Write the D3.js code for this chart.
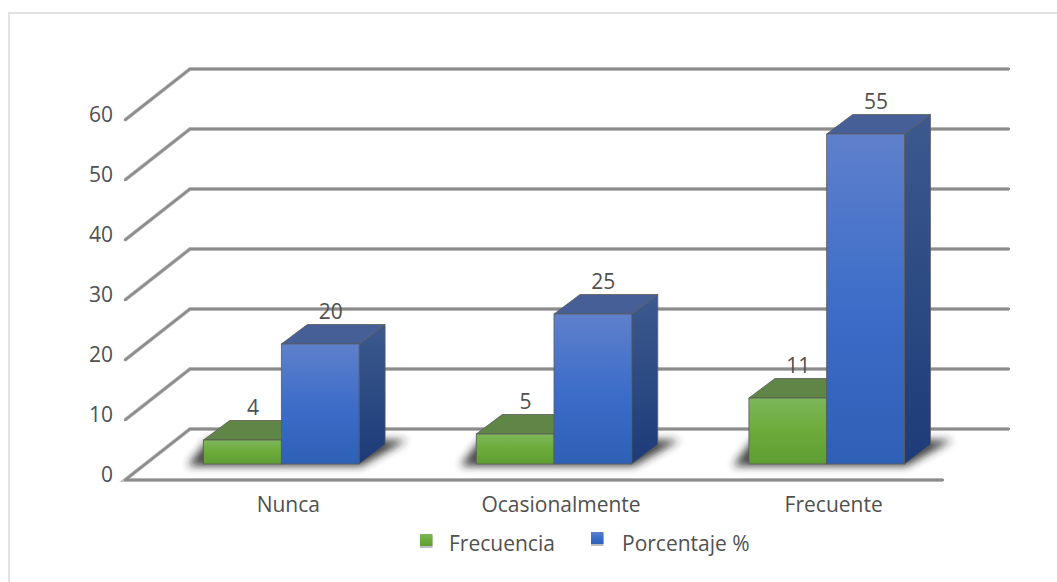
<!DOCTYPE html>
<html><head><meta charset="utf-8">
<script src="https://cdn.jsdelivr.net/npm/d3@7"></script>
<style>html,body{margin:0;padding:0;background:#fff}svg{display:block}text{font-family:"Open Sans",sans-serif;fill:#505050}</style>
</head><body><svg id="c" width="1057" height="582"></svg>
<script>
const categories = ["Nunca","Ocasionalmente","Frecuente"];
const seriesNames = ["Frecuencia","Porcentaje %"];
const frecuencia = [4,5,11];
const porcentaje = [20,25,55];
const yTicks = [0,10,20,30,40,50,60];

const svg = d3.select("#c");
const defs = svg.append("defs");
function grad(id, stops){
  const g = defs.append("linearGradient").attr("id",id).attr("x1",0).attr("y1",0).attr("x2",0).attr("y2",1);
  stops.forEach(s=>g.append("stop").attr("offset",s[0]).attr("stop-color",s[1]));
}
grad("gFront",[[0,"#7db65a"],[0.5,"#6cab3a"],[1,"#5f9d34"]]);
grad("bFront",[[0,"#5f80cc"],[0.55,"#3a6cc8"],[1,"#2f60b6"]]);
grad("bSide",[[0,"#3d5a8e"],[1,"#1c3b78"]]);
grad("gSide",[[0,"#4f7238"],[1,"#3f6a25"]]);
defs.append("filter").attr("id","blur").attr("x","-30%").attr("y","-100%").attr("width","160%").attr("height","300%")
  .append("feGaussianBlur").attr("stdDeviation",4);
defs.append("filter").attr("id","soft").attr("filterUnits","userSpaceOnUse").attr("x",0).attr("y",0).attr("width",1057).attr("height",582)
  .append("feGaussianBlur").attr("stdDeviation",0.7);

// frame: only the top and left edges show
svg.append("path").attr("d",d3.line()([[9,582],[9,13],[1057,13]])).attr("fill","none").attr("stroke","#e2e2e2").attr("stroke-width",2);

// scales
const y = d3.scaleLinear().domain([0,60]).range([480,120]);
const x = d3.scaleBand().domain(categories).range([145,963]);
const xInner = d3.scaleBand().domain(seriesNames).range([0,155.5]);
const barOffset = (x.bandwidth()-155.5)/2;
const dx = 65, dy = -51;          // wall depth
const bdx = 26, bdy = -19.5;      // bar depth
const floorLift = 16;             // bars stand this far behind the front edge
const xFloorLeft = 125, xFloorRight = 943;

// gridlines and walls
const gridPath = t => {
  const pts = t===0
    ? [[xFloorRight,y(0)],[xFloorLeft,y(0)],[xFloorLeft+dx,y(0)+dy],[xFloorRight+dx+1,y(0)+dy]]
    : [[xFloorLeft,y(t)],[xFloorLeft+dx,y(t)+dy],[xFloorRight+dx+1,y(t)+dy]];
  return d3.line()(pts);
};
const haloG = svg.append("g").attr("fill","none").attr("stroke","#c4c4c4").attr("stroke-width",4).attr("filter","url(#soft)");
const gridG = svg.append("g").attr("fill","none").attr("stroke","#8c8c8c").attr("stroke-width",2.4);
yTicks.forEach(t=>{
  haloG.append("path").attr("d",gridPath(t));
  gridG.append("path").attr("d",gridPath(t)).attr("stroke-linejoin","round").attr("stroke-linecap","round");
});

// y tick labels
svg.append("g").selectAll("text").data(yTicks).join("text")
  .attr("x",113).attr("y",d=>y(d)-6).attr("text-anchor","end").attr("dominant-baseline","central")
  .attr("font-size",21).text(d=>d);

// shadows
svg.append("g").selectAll("path").data(categories).join("path")
  .attr("filter","url(#blur)").attr("fill","#222").attr("opacity",0.85)
  .attr("d",c=>{
    const l = x(c)+barOffset, r = l+155.5, b = y(0)-floorLift;
    return d3.line()([[l-16,b+2],[r+2,b+2],[r+48,b-24],[r,b-24],[l+4,b-24]])+"Z";
  });

// bars
function drawBar(g, left, w, v, front, side, top){
  const b = y(0)-floorLift, t = b-(y(0)-y(v));
  const st = "#5a5a5a";
  g.append("path").attr("d",d3.line()([[left+w,t],[left+w+bdx,t+bdy],[left+w+bdx,b+bdy],[left+w,b]])+"Z")
    .attr("fill",side).attr("stroke",st).attr("stroke-width",0.8);
  g.append("path").attr("d",d3.line()([[left,t],[left+bdx,t+bdy],[left+w+bdx,t+bdy],[left+w,t]])+"Z")
    .attr("fill",top).attr("stroke",st).attr("stroke-width",0.8);
  g.append("rect").attr("x",left).attr("y",t).attr("width",w).attr("height",b-t)
    .attr("fill",front).attr("stroke",st).attr("stroke-width",0.8);
}
const barsG = svg.append("g");
categories.forEach((c,i)=>{
  const g = barsG.append("g");
  const left = x(c)+barOffset;
  drawBar(g,left+xInner(seriesNames[0]),xInner.bandwidth(),frecuencia[i],"url(#gFront)","url(#gSide)","#5f8647");
  drawBar(g,left+xInner(seriesNames[1]),xInner.bandwidth(),porcentaje[i],"url(#bFront)","url(#bSide)","#465f96");
});

// data labels
const labelsG = svg.append("g").attr("font-size",21);
categories.forEach((c,i)=>{
  const left = x(c)+barOffset;
  [[seriesNames[0],frecuencia[i]],[seriesNames[1],porcentaje[i]]].forEach(([s,v])=>{
    labelsG.append("text")
      .attr("x",left+xInner(s)+xInner.bandwidth()/2+10.5)
      .attr("y",y(v)-floorLift-33)
      .attr("text-anchor","middle").attr("dominant-baseline","central").text(v);
  });
});

// category labels
svg.append("g").selectAll("text").data(categories).join("text")
  .attr("x",c=>x(c)+x.bandwidth()/2+7).attr("y",504)
  .attr("text-anchor","middle").attr("dominant-baseline","central").attr("font-size",21).text(d=>d);

// legend
const legendPos = [[420,534,449],[591,532,622]];
const legendFill = ["url(#gFront)","url(#bFront)"];
seriesNames.forEach((s,i)=>{
  const [sx,sy,tx] = legendPos[i];
  svg.append("rect").attr("x",sx).attr("y",sy+2).attr("width",12.5).attr("height",12).attr("fill","#bdbdbd");
  svg.append("rect").attr("x",sx).attr("y",sy).attr("width",12.5).attr("height",12).attr("fill",legendFill[i]);
  svg.append("text").attr("x",tx).attr("y",543).attr("dominant-baseline","central").attr("font-size",21).text(s);
});
</script></body></html>
